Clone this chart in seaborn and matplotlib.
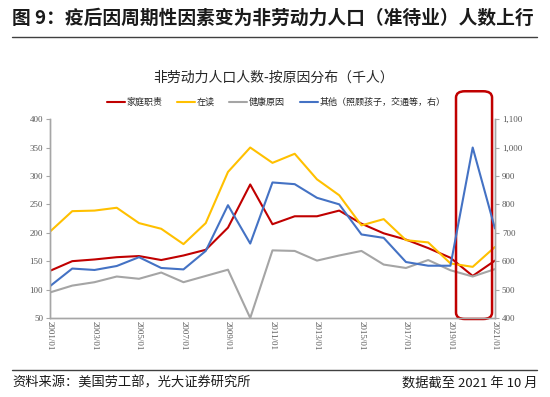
import numpy as np
import pandas as pd
import matplotlib
matplotlib.use('Agg')
import matplotlib.pyplot as plt
import seaborn as sns
from matplotlib.patches import FancyBboxPatch
from matplotlib.lines import Line2D
import matplotlib.transforms as mtransforms
from matplotlib.ticker import FuncFormatter

# data (thousand persons), annual, Jan of each year
years = list(range(2001, 2022))
family = [133, 150, 153, 157, 159, 152, 160, 170, 209, 285, 215, 229, 229, 239, 216, 199, 188, 173, 156, 124, 151]
school = [202, 238, 239, 244, 217, 207, 180, 217, 307, 350, 323, 339, 294, 266, 213, 224, 187, 183, 146, 140, 175]
health = [95, 107, 113, 123, 119, 130, 113, 124, 135, 50, 169, 168, 151, 160, 168, 144, 138, 152, 134, 123, 136]
other = [512, 574, 569, 583, 614, 576, 571, 636, 797, 662, 877, 871, 823, 800, 694, 682, 597, 584, 584, 1000, 715]

names = ['家庭职责', '在读', '健康原因', '其他（照顾孩子，交通等，右）']
colors = ['#C00000', '#FFC000', '#A5A5A5', '#4472C4']
tick_years = list(range(2001, 2022, 2))
tick_labels = [f'{y}/01' for y in tick_years]

df = pd.DataFrame({'year': years, names[0]: family, names[1]: school,
                   names[2]: health, names[3]: other})

sns.set_style('white')
plt.rcParams['font.family'] = ['Noto Sans CJK SC', 'DejaVu Sans']

fig = plt.figure(figsize=(5.5, 3.97), dpi=100)
ax = fig.add_axes([0.0909, 0.199, 0.809, 0.501])
ax2 = ax.twinx()

for name, c in zip(names[:3], colors[:3]):
    sns.lineplot(data=df, x='year', y=name, ax=ax, color=c, linewidth=1.5)
sns.lineplot(data=df, x='year', y=names[3], ax=ax2, color=colors[3], linewidth=1.5)

ax.set_xlim(2001, 2021)
ax.set_ylim(50, 400)
ax2.set_ylim(400, 1100)
ax.set_yticks(range(50, 401, 50))
ax2.set_yticks(range(400, 1101, 100))
ax2.yaxis.set_major_formatter(FuncFormatter(lambda v, p: f'{int(v):,}'))
ax.set_xticks(tick_years)
ax.set_xticklabels(tick_labels, rotation=270)
ax.set_xlabel('')
ax.set_ylabel('')
ax2.set_ylabel('')

for a in (ax, ax2):
    a.spines['top'].set_visible(False)
    for s in ('left', 'right', 'bottom'):
        a.spines[s].set_color('#A6A6A6')
        a.spines[s].set_linewidth(1.0)
    a.tick_params(axis='both', length=3, width=0.8, color='#A6A6A6',
                  labelsize=6.5, labelcolor='#595959', pad=2)
    for lab in a.get_xticklabels() + a.get_yticklabels():
        lab.set_family('Liberation Serif')
ax.tick_params(axis='x', direction='in')

# highlight box around 2020
trans = mtransforms.blended_transform_factory(ax.transData, ax.transAxes)
box = FancyBboxPatch((2019.25, -0.005), 1.62, 1.145, transform=trans,
                     boxstyle='round,pad=0,rounding_size=0.4', mutation_aspect=0.08,
                     fill=False, edgecolor='#C00000', linewidth=1.8, clip_on=False, zorder=5)
ax.add_patch(box)

handles = [Line2D([], [], color=c, linewidth=1.5) for c in colors]
fig.legend(handles, names, loc='center', bbox_to_anchor=(0.502, 0.743), ncol=4,
           frameon=False, fontsize=6.5, handlelength=2.0, columnspacing=1.6,
           handletextpad=0.2, borderpad=0, borderaxespad=0)

fig.text(0.497, 0.804, '非劳动力人口人数-按原因分布（千人）', ha='center', va='center',
         fontsize=10, color='#262626')

fig.text(0.022, 0.955, '图 9：疫后因周期性因素变为非劳动力人口（准待业）人数上行',
         ha='left', va='center', fontsize=13.5, fontweight='bold', color='#1a1a1a')
fig.add_artist(Line2D([0.022, 0.977], [0.908, 0.908], color='#404040', linewidth=1.0))
fig.add_artist(Line2D([0.022, 0.977], [0.068, 0.068], color='#404040', linewidth=1.0))
fig.text(0.022, 0.035, '资料来源：美国劳工部，光大证券研究所', ha='left', va='center',
         fontsize=9.5, color='#1a1a1a')
fig.text(0.977, 0.035, '数据截至 2021 年 10 月', ha='right', va='center',
         fontsize=9.5, color='#1a1a1a')

fig.savefig('out.png', dpi=100)
